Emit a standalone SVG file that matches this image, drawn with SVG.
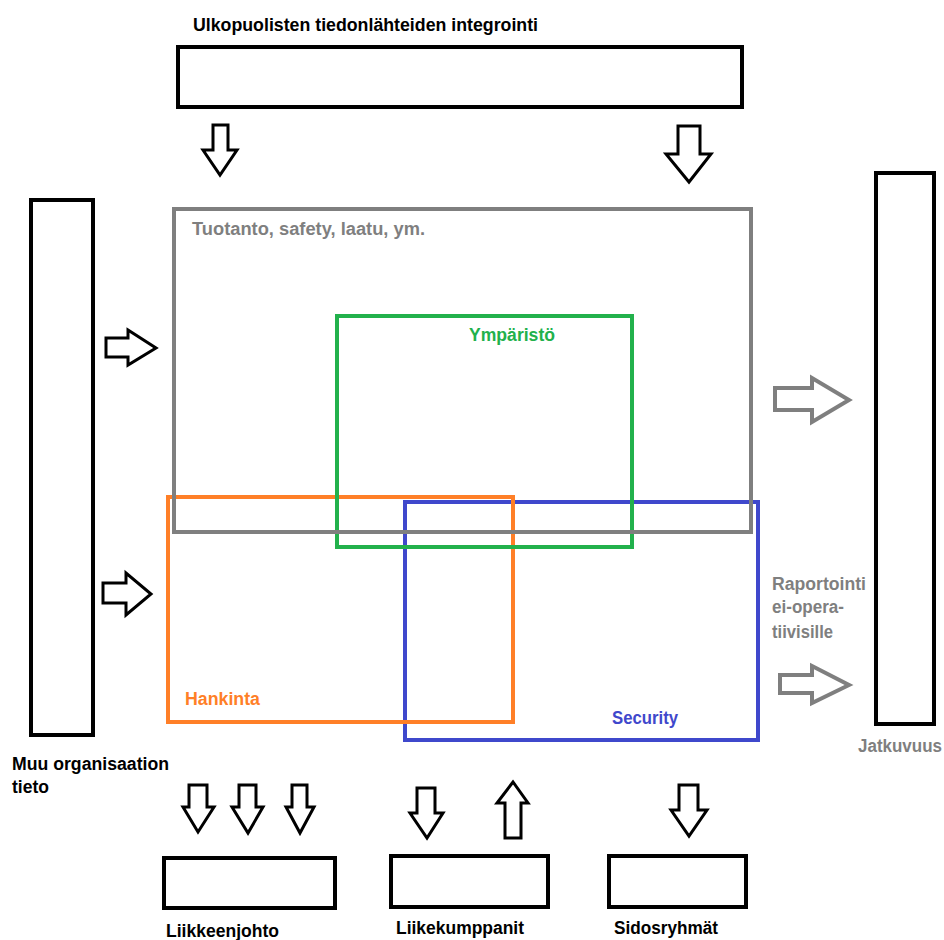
<svg xmlns="http://www.w3.org/2000/svg" width="944" height="940" viewBox="0 0 944 940">
  <style>
    .box { fill: none; stroke: #000; stroke-width: 4; }
    .arr { fill: #fff; stroke: #000; stroke-width: 3; stroke-linejoin: miter; }
    .arr-g { fill: #fff; stroke: #7f7f7f; stroke-width: 4; stroke-linejoin: miter; }
    .area { fill: none; stroke-width: 4; }
    text { font-family: "Liberation Sans", Arial, sans-serif; font-weight: bold; font-size: 17.5px; }
    .lbl { fill: #000; }
    .gray { fill: #7f7f7f; }
  </style>

  <rect width="944" height="940" fill="#fff"/>

  <!-- source and target boxes -->
  <g id="ulkopuoliset">
    <rect class="box" x="178" y="47" width="564" height="60"/>
    <text class="lbl" x="193" y="31" textLength="345" lengthAdjust="spacingAndGlyphs">Ulkopuolisten tiedonlähteiden integrointi</text>
  </g>
  <g id="muu-organisaatio">
    <rect class="box" x="31" y="200" width="62" height="535"/>
    <text class="lbl" x="12" y="770" textLength="157" lengthAdjust="spacingAndGlyphs">Muu organisaation</text>
    <text class="lbl" x="12" y="793">tieto</text>
  </g>
  <g id="jatkuvuus">
    <rect class="box" x="876" y="173" width="58" height="551"/>
    <text class="gray" x="858" y="752" textLength="84" lengthAdjust="spacingAndGlyphs">Jatkuvuus</text>
  </g>
  <g id="liikkeenjohto">
    <rect class="box" x="164" y="858" width="171" height="50"/>
    <text class="lbl" x="166" y="937" textLength="113" lengthAdjust="spacingAndGlyphs">Liikkeenjohto</text>
  </g>
  <g id="liikekumppanit">
    <rect class="box" x="391" y="856" width="157" height="51"/>
    <text class="lbl" x="396" y="934" textLength="128" lengthAdjust="spacingAndGlyphs">Liikekumppanit</text>
  </g>
  <g id="sidosryhmat">
    <rect class="box" x="609" y="856" width="137" height="51"/>
    <text class="lbl" x="614" y="934" textLength="104" lengthAdjust="spacingAndGlyphs">Sidosryhmät</text>
  </g>

  <!-- overlapping domain areas -->
  <g id="security">
    <rect class="area" stroke="#3f48cc" x="405" y="502" width="353" height="238"/>
    <text fill="#3f48cc" x="612" y="724" textLength="66" lengthAdjust="spacingAndGlyphs">Security</text>
  </g>
  <g id="hankinta">
    <rect class="area" stroke="#ff7f27" x="168" y="497" width="345" height="225"/>
    <text fill="#ff7f27" x="185" y="705" textLength="75" lengthAdjust="spacingAndGlyphs">Hankinta</text>
  </g>
  <g id="ymparisto">
    <rect class="area" stroke="#22b14c" x="337" y="316" width="295" height="231"/>
    <text fill="#22b14c" x="469" y="341" textLength="86" lengthAdjust="spacingAndGlyphs">Ympäristö</text>
  </g>
  <g id="tuotanto">
    <rect class="area" stroke="#7f7f7f" x="174" y="209" width="577" height="323"/>
    <text class="gray" x="192" y="235" textLength="233" lengthAdjust="spacingAndGlyphs">Tuotanto, safety, laatu, ym.</text>
  </g>

  <g id="raportointi">
    <text class="gray" x="772" y="590" textLength="94" lengthAdjust="spacingAndGlyphs">Raportointi</text>
    <text class="gray" x="772" y="613" textLength="72" lengthAdjust="spacingAndGlyphs">ei-opera-</text>
    <text class="gray" x="772" y="638" textLength="61" lengthAdjust="spacingAndGlyphs">tiivisille</text>
  </g>

  <!-- block arrows -->
  <g id="connectors">
    <!-- down from external sources -->
    <polygon class="arr" points="213,125 228,125 228,150 237,150 220,175 203,150 213,150"/>
    <polygon class="arr" points="678,126 700,126 700,154 711,154 689,182 666,154 678,154"/>
    <!-- right from organisation data -->
    <polygon class="arr" points="106,338 128,338 128,330 156,348 128,365 128,357 106,357"/>
    <polygon class="arr" points="103,583 126,583 126,573 151,594 126,615 126,603 103,603"/>
    <!-- grey arrows to continuity -->
    <polygon class="arr-g" points="775,388 812,388 812,378 849,400 812,422 812,410 775,410"/>
    <polygon class="arr-g" points="780,675 812,675 812,666 849,685 812,703 812,693 780,693"/>
    <!-- down to management -->
    <polygon class="arr" points="189,785 207,785 207,807 214,807 198,832 183,807 189,807"/>
    <polygon class="arr" points="239,785 256,785 256,807 263,807 248,833 232,807 239,807"/>
    <polygon class="arr" points="292,785 307,785 307,807 314,807 300,833 286,807 292,807"/>
    <!-- business partners: down and up -->
    <polygon class="arr" points="417,788 435,788 435,813 443,813 427,838 410,813 417,813"/>
    <polygon class="arr" points="505,838 521,838 521,803 528,803 513,782 497,803 505,803"/>
    <!-- down to stakeholders -->
    <polygon class="arr" points="679,785 698,785 698,810 707,810 689,836 671,810 679,810"/>
  </g>
</svg>
